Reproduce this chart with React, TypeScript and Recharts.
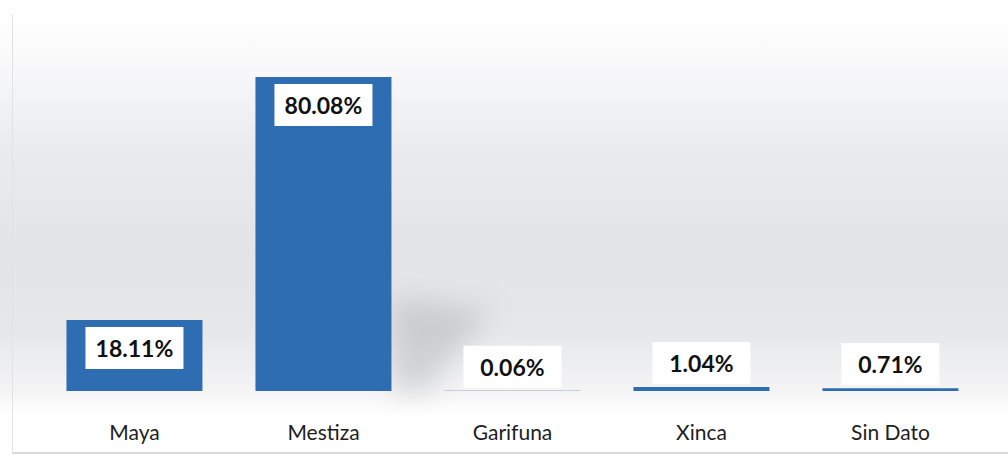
import React from 'react';
import { BarChart, Bar, XAxis, YAxis, LabelList, Rectangle } from 'recharts';

const categories = ['Maya', 'Mestiza', 'Garifuna', 'Xinca', 'Sin Dato'];
const shares = [18.11, 80.08, 0.06, 1.04, 0.71];
const shareLabels = ['18.11%', '80.08%', '0.06%', '1.04%', '0.71%'];

const chartData = categories.map((name, i) => ({
  name,
  value: shares[i],
  label: shareLabels[i],
}));

const FONT = 'Lato, "Open Sans", sans-serif';

const ValueLabel = (props: any) => {
  const { x, y, width, height, index } = props;
  const text = shareLabels[index];
  const cx = x + width / 2;
  const inside = height > 50;
  const cy = inside ? y + 28 : y - 24;
  const boxW = 98;
  const boxH = 42;
  return (
    <g>
      <rect x={cx - boxW / 2} y={cy - boxH / 2} width={boxW} height={boxH} fill="#ffffff" />
      <text
        x={cx}
        y={cy}
        textAnchor="middle"
        dominantBaseline="central"
        fontFamily={FONT}
        fontWeight={700}
        fontSize={23}
        fill="#111111"
      >
        {text}
      </text>
    </g>
  );
};

// soft shadow behind the tallest bar, as in the original slide
const ShadowBar = (props: any) => {
  const { x, y, width, height } = props;
  const tall = height > 200;
  return (
    <g>
      {tall && (
        <polygon
          points={`${x + width},${y + height * 0.7} ${x + width + 100},${y + height * 0.74} ${x + width + 35},${y + height} ${x + width},${y + height}`}
          fill="#a4a6a9"
          opacity={0.4}
          filter="url(#soft)"
        />
      )}
      <Rectangle {...props} />
    </g>
  );
};

const CategoryTick = (props: any) => {
  const { x, y, payload } = props;
  return (
    <text
      x={x}
      y={y + 32}
      textAnchor="middle"
      dominantBaseline="central"
      fontFamily={FONT}
      fontSize={21}
      fill="#1e1e1e"
    >
      {payload.value}
    </text>
  );
};

export default function App() {
  return (
    <div
      style={{
        position: 'fixed',
        top: 0,
        left: 0,
        width: 1008,
        height: 457,
        background:
          'linear-gradient(to bottom, #ffffff 0px, #fbfbfc 50px, #eaebed 150px, #e3e4e6 250px, #e6e7e9 330px, #f4f4f5 390px, #ffffff 415px, #ffffff 457px)',
      }}
    >
      <div
        style={{
          position: 'absolute',
          left: 12,
          top: 14,
          width: 1000,
          height: 438,
          borderLeft: '1px solid #e2e2e2',
          borderBottom: '2px solid #d9d9d9',
        }}
      />
      <BarChart
        width={1008}
        height={457}
        data={chartData}
        margin={{ top: 77, right: 23, bottom: 0, left: 40 }}
        barCategoryGap="14%"
      >
        <defs>
          <filter id="soft" x="-50%" y="-50%" width="200%" height="200%">
            <feGaussianBlur stdDeviation="14" />
          </filter>
        </defs>
        <XAxis
          dataKey="name"
          axisLine={false}
          tickLine={false}
          height={66}
          tick={<CategoryTick />}
          interval={0}
        />
        <YAxis hide domain={[0, 'dataMax']} />
        <Bar dataKey="value" fill="#2f6db3" isAnimationActive={false} shape={<ShadowBar />}>
          <LabelList dataKey="label" content={<ValueLabel />} />
        </Bar>
      </BarChart>
    </div>
  );
}
